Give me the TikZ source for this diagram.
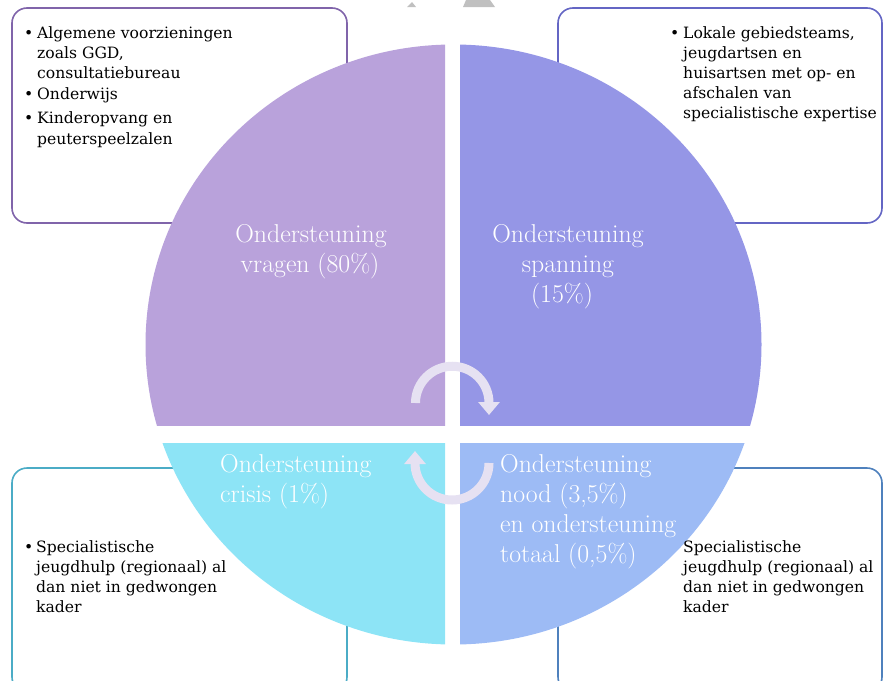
\documentclass[tikz,border=0pt]{standalone}
\usepackage{fontspec}
\usetikzlibrary{positioning,arrows.meta}
\newfontfamily\boxfont{DejaVu Serif}
\definecolor{kwvragen}{RGB}{185,162,219}
\definecolor{kwspanning}{RGB}{149,150,230}
\definecolor{kwcrisis}{RGB}{141,228,246}
\definecolor{kwnood}{RGB}{157,187,245}
\definecolor{rndpaars}{RGB}{128,100,170}
\definecolor{rndblauwpaars}{RGB}{100,102,196}
\definecolor{rndaqua}{RGB}{75,172,198}
\definecolor{rndblauw}{RGB}{79,129,189}
\definecolor{pijlkleur}{RGB}{230,225,242}
\definecolor{watermerk}{RGB}{192,192,192}

\begin{document}
\begin{tikzpicture}[x=1pt,y=-1pt,
  kader/.style={line width=1.6pt,rounded corners=15pt,fill=white},
  regel/.style={anchor=base west,inner sep=0pt,font=\boxfont\fontsize{15.6}{20}\selectfont},
  kwtekst/.style={text=white,inner sep=0pt,font=\fontsize{25.8}{30}\selectfont},
  kringpijl/.style={line width=9pt,draw=pijlkleur,-{Triangle[width=21pt,length=13pt]}}]
\clip (0,0) rectangle (883,680);
% watermark remains
\fill[watermerk] (407,7) -- (412,2) -- (416,7) -- cycle;
\fill[watermerk] (463,7) -- (466,0) -- (490,0) -- (495,7) -- cycle;
% kaders
\draw[kader,draw=rndpaars] (12,8) rectangle (347,223); % top left
\draw[kader,draw=rndblauwpaars] (558,8) rectangle (882,223); % top right
\draw[kader,draw=rndaqua] (12,468) rectangle (347,692); % bottom left
\draw[kader,draw=rndblauw] (558,468) rectangle (882,692); % bottom right
% kwadranten
\begin{scope}
\clip (0,0) rectangle (445,425);
\fill[kwvragen] (453.5,344.5) ellipse [x radius=308, y radius=300];
\end{scope}
\begin{scope}
\clip (460,0) rectangle (883,425);
\fill[kwspanning] (453.5,344.5) ellipse [x radius=308, y radius=300];
\end{scope}
\begin{scope}
\clip (0,443) rectangle (445,680);
\fill[kwcrisis] (453.5,344.5) ellipse [x radius=308, y radius=300];
\end{scope}
\begin{scope}
\clip (460,443) rectangle (883,680);
\fill[kwnood] (453.5,344.5) ellipse [x radius=308, y radius=300];
\end{scope}
% pijlen
\coordinate (boogA) at (415.5,403);
\coordinate (boogB) at (489,463);
\draw[kringpijl] (boogA) arc [start angle=180, end angle=0, radius=36.75pt] -- ++(0,12);
\draw[kringpijl] (boogB) arc [start angle=0, end angle=-180, radius=37pt] -- ++(0,-12);
% tekst kwadranten
\node[kwtekst,anchor=base] (vr1) at (311,242) {Ondersteuning};
\node[kwtekst,anchor=base] (vr2) at (310,272) {vragen (80\%)};
\node[kwtekst,anchor=base] (sp1) at (568,242) {Ondersteuning};
\node[kwtekst,anchor=base] (sp2) at (568,272) {spanning};
\node[kwtekst,anchor=base] (sp3) at (562,302) {(15\%)};
\node[kwtekst,anchor=base west] (cr1) at (220,472) {Ondersteuning};
\node[kwtekst,anchor=base west] (cr2) at (220,502) {crisis (1\%)};
\node[kwtekst,anchor=base west] (nd1) at (500,472) {Ondersteuning};
\node[kwtekst,anchor=base west] (nd2) at (500,502) {nood (3,5\%)};
\node[kwtekst,anchor=base west] (nd3) at (500,532) {en ondersteuning};
\node[kwtekst,anchor=base west] (nd4) at (500,562) {totaal (0,5\%)};
% tekst kaders
\node[regel] (lb1) at (24,38) {•};
\node[regel] (lt1) at (37,38) {Algemene voorzieningen};
\node[regel] (lt2) at (37,58) {zoals GGD,};
\node[regel] (lt3) at (37,78) {consultatiebureau};
\node[regel] (lb2) at (24,99) {•};
\node[regel] (lt4) at (37,99) {Onderwijs};
\node[regel] (lb3) at (24,123) {•};
\node[regel] (lt5) at (37,123) {Kinderopvang en};
\node[regel] (lt6) at (37,144) {peuterspeelzalen};
\node[regel] (rb1) at (670,38) {•};
\node[regel] (rt1) at (683,38) {Lokale gebiedsteams,};
\node[regel] (rt2) at (683,58) {jeugdartsen en};
\node[regel] (rt3) at (683,78) {huisartsen met op- en};
\node[regel] (rt4) at (683,98) {afschalen van};
\node[regel] (rt5) at (683,118) {specialistische expertise};
\node[regel] (ob1) at (24,552) {•};
\node[regel] (ot1) at (36,552) {Specialistische};
\node[regel] (ot2) at (36,572) {jeugdhulp (regionaal) al};
\node[regel] (ot3) at (36,592) {dan niet in gedwongen};
\node[regel] (ot4) at (36,612) {kader};
\node[regel] (nt1) at (683,552) {Specialistische};
\node[regel] (nt2) at (683,572) {jeugdhulp (regionaal) al};
\node[regel] (nt3) at (683,592) {dan niet in gedwongen};
\node[regel] (nt4) at (683,612) {kader};
\end{tikzpicture}
\end{document}
